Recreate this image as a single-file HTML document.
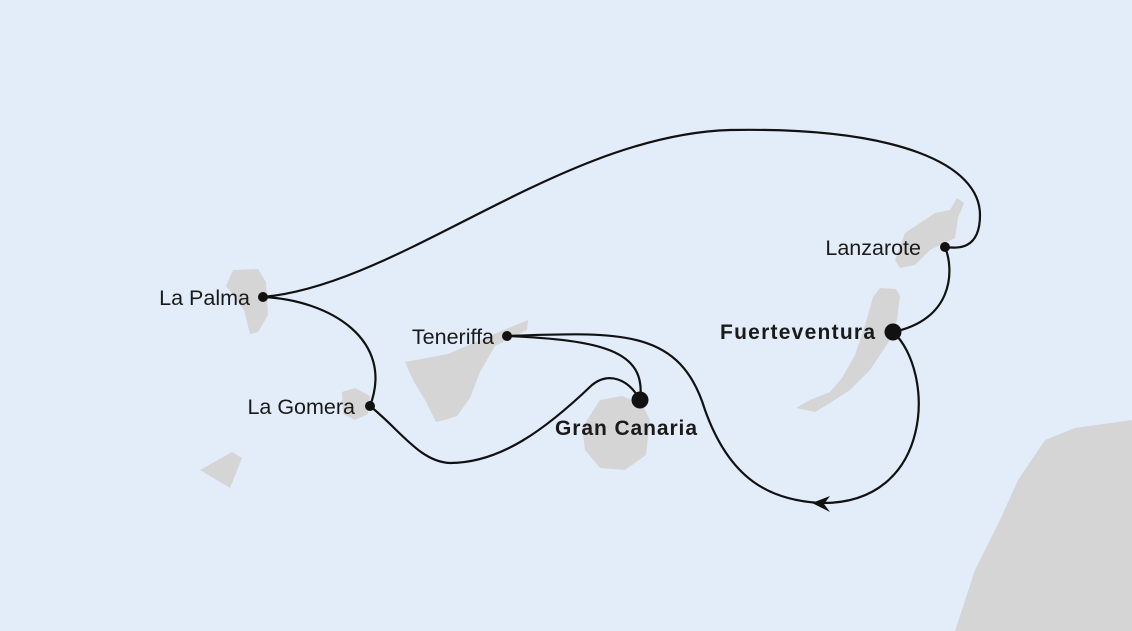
<!DOCTYPE html>
<html><head><meta charset="utf-8"><style>
html,body{margin:0;padding:0;background:#e3edf9;}
svg{display:block;}
text{font-family:"Liberation Sans",sans-serif;font-size:21.5px;fill:#1a1a1a;}
.b{font-weight:bold;font-size:21px;}
</style></head><body>
<svg width="1132" height="631" viewBox="0 0 1132 631" xmlns="http://www.w3.org/2000/svg">
<rect width="1132" height="631" fill="#e3edf9"/>
<g fill="#d5d5d6">
<path d="M233,270 L258,269 L266,282 L268,315 L258,332 L250,334 L244,310 L226,286 Z"/>
<path d="M200,470 L232,452 L242,458 L230,488 Z"/>
<path d="M342,392 L355,388 L370,396 L368,414 L355,420 L343,414 Z"/>
<path d="M405,362 L448,354 L494,334 L528,320 L527,330 L495,346 L480,372 L470,398 L457,416 L445,420 L436,422 L425,400 L413,380 Z"/>
<path d="M600,400 L622,396 L642,404 L650,420 L646,455 L625,470 L600,468 L585,450 L582,428 Z"/>
<path d="M905,233 L935,213 L950,210 L957,198 L964,203 L958,218 L955,238 L930,250 L915,265 L900,268 L895,260 Z"/>
<path d="M880,288 L896,289 L900,296 L897,320 L890,340 L870,370 L850,390 L830,403 L815,412 L796,408 L810,400 L830,392 L842,378 L855,355 L866,322 L873,297 Z"/>
<path d="M955,631 L975,570 L1000,520 L1018,480 L1045,440 L1075,428 L1132,420 L1132,631 Z"/>
</g>
<g fill="none" stroke="#111" stroke-width="2.2">
<path d="M263,297 C 400,285 560,135 730,130 C 900,127 980,165 980,215 C 980,252 955,248 945,247"/>
<path d="M945,247 C 955,272 952,320 893,332"/>
<path d="M893,332 C 935,370 935,505 820,503"/>
<path d="M507,336 C 620,332 680,328 705,410 C 730,480 770,500 820,503"/>
<path d="M507,336 C 600,340 647,350 640,400"/>
<path d="M640,400 C 628,378 608,372 592,385 C 545,430 500,463 450,463 C 420,462 400,430 370,406"/>
<path d="M263,297 C 330,300 395,340 370,406"/>
</g>
<path d="M812,503 L830,496 L824,504 L830,512 Z" fill="#111"/>
<g fill="#111">
<circle cx="263" cy="297" r="5"/>
<circle cx="370" cy="406" r="5"/>
<circle cx="507" cy="336" r="5"/>
<circle cx="640" cy="400" r="8.5"/>
<circle cx="945" cy="247" r="5"/>
<circle cx="893" cy="332" r="8.5"/>
</g>
<text x="250" y="305" text-anchor="end">La Palma</text>
<text x="355" y="414" text-anchor="end">La Gomera</text>
<text x="494" y="344" text-anchor="end">Teneriffa</text>
<text class="b" x="555" y="435" textLength="142">Gran Canaria</text>
<text x="921" y="255" text-anchor="end">Lanzarote</text>
<text class="b" x="720" y="339" textLength="155">Fuerteventura</text>
</svg>
</body></html>
